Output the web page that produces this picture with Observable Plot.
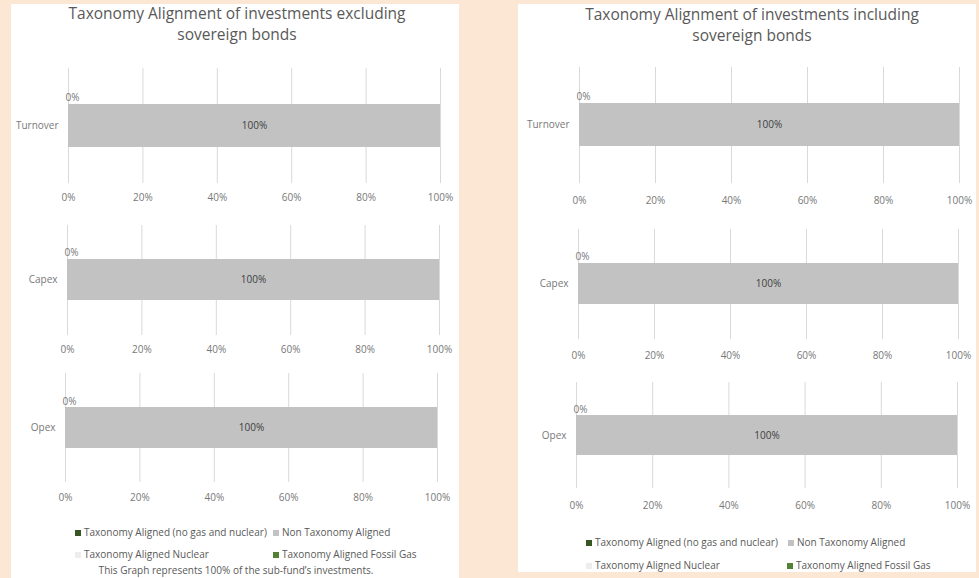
<!DOCTYPE html>
<html>
<head>
<meta charset="utf-8">
<script src="https://cdn.jsdelivr.net/npm/d3@7"></script>
<script src="https://cdn.jsdelivr.net/npm/@observablehq/plot@0.6"></script>
<style>
  html, body { margin: 0; padding: 0; }
  body { width: 979px; height: 578px; background: #fbe7d4; position: relative; overflow: hidden; font-family: "Open Sans", sans-serif; }
  .panel { position: absolute; background: #ffffff; }
  .title { position: absolute; text-align: center; color: #595959; font-size: 15.5px; line-height: 21px; white-space: nowrap; transform: translateX(-50%); }
  .leg { position: absolute; font-size: 10px; color: #595959; white-space: nowrap; line-height: 12px; }
  .sw { display: inline-block; width: 6px; height: 6px; margin-right: 3px; vertical-align: 0px; }
  .cap { position: absolute; font-size: 10px; color: #595959; white-space: nowrap; transform: translateX(-50%); line-height: 11px; }
</style>
</head>
<body>
<div class="panel" style="left:11px; top:4px; width:448px; height:574px;"></div>
<div class="panel" style="left:518px; top:4px; width:458px; height:568px;"></div>
<div id="root"></div>
<script>
// ---- data ----
const categories = ["Turnover", "Capex", "Opex"];
const seriesNames = [
  "Taxonomy Aligned (no gas and nuclear)",
  "Non Taxonomy Aligned",
  "Taxonomy Aligned Nuclear",
  "Taxonomy Aligned Fossil Gas"
];
const exclAligned = [0, 0, 0];
const exclNon = [100, 100, 100];
const exclNuclear = [0, 0, 0];
const exclFossil = [0, 0, 0];
const inclAligned = [0, 0, 0];
const inclNon = [100, 100, 100];
const inclNuclear = [0, 0, 0];
const inclFossil = [0, 0, 0];
const xTicks = [0, 20, 40, 60, 80, 100];
const titles = [
  ["Taxonomy Alignment of investments excluding", "sovereign bonds"],
  ["Taxonomy Alignment of investments including", "sovereign bonds"]
];
const captionText = "This Graph represents 100% of the sub-fund\u2019s investments.";

// ---- styles ----
const seriesColors = ["#375623", "#c2c2c2", "#ededed", "#548235"];
const fontFamily = "'Open Sans', sans-serif";
const fmt = d3.format(".0%");

const root = document.getElementById("root");

function subchart(catIndex, seriesValues, g) {
  const cat = categories[catIndex];
  const rows = seriesNames.map((s, i) => ({cat, series: s, value: seriesValues[i][catIndex] / 100}));
  const pad = 0.45;
  const gridH = g.bot - g.top;
  const barH = gridH * (1 - pad) / (1 + pad);
  const marginTop = 2, marginBottom = 26;
  const svgLeft = g.panelL, svgRight = g.panelR;
  const chart = Plot.plot({
    width: svgRight - svgLeft,
    height: marginTop + gridH + marginBottom,
    marginTop,
    marginBottom,
    marginLeft: g.x0 - svgLeft,
    marginRight: svgRight - g.x1,
    style: {fontFamily, fontSize: "10px", color: "#787878", background: "transparent", overflow: "visible"},
    x: {domain: [0, 1], ticks: xTicks.map(d => d / 100), tickFormat: fmt, tickSize: 0, tickPadding: g.tp, label: null},
    y: {domain: [cat], padding: pad, tickSize: 0, tickPadding: 10, label: null},
    color: {domain: seriesNames, range: seriesColors},
    marks: [
      Plot.gridX(xTicks.map(d => d / 100), {stroke: "#d9d9d9", strokeOpacity: 1, strokeWidth: 1}),
      Plot.barX(rows, {x: "value", y: "cat", fill: "series", order: seriesNames}),
      Plot.text(rows, Plot.stackX({
        x: "value", y: "cat", z: "series", order: seriesNames,
        filter: d => d.series === seriesNames[1],
        text: d => fmt(d.value), fill: "#404040", fontSize: 10
      })),
      Plot.text(rows, Plot.stackX({
        x: "value", y: "cat", z: "series", order: seriesNames,
        filter: d => d.series === seriesNames[0],
        text: d => fmt(d.value), fill: "#787878", fontSize: 10,
        dx: 4, dy: -(barH / 2 + 6)
      }))
    ]
  });
  chart.style.position = "absolute";
  chart.style.left = svgLeft + "px";
  chart.style.top = (g.top - marginTop) + "px";
  root.appendChild(chart);
}

const geomLeft = [
  {top: 68, bot: 183, x0: 68, x1: 440, tp: 10.5},
  {top: 225, bot: 335, x0: 67, x1: 439, tp: 10.5},
  {top: 373, bot: 482, x0: 65, x1: 437, tp: 11.5}
];
const geomRight = [
  {top: 67, bot: 183, x0: 579, x1: 959, tp: 13.5},
  {top: 229, bot: 339, x0: 578, x1: 958, tp: 12.5},
  {top: 382, bot: 488, x0: 576, x1: 957, tp: 13.5}
];
const excl = [exclAligned, exclNon, exclNuclear, exclFossil];
const incl = [inclAligned, inclNon, inclNuclear, inclFossil];
geomLeft.forEach((g, i) => subchart(i, excl, Object.assign({panelL: 11, panelR: 459}, g)));
geomRight.forEach((g, i) => subchart(i, incl, Object.assign({panelL: 518, panelR: 976}, g)));

// titles
function addTitle(lines, cx, top) {
  const d = document.createElement("div");
  d.className = "title";
  d.style.left = cx + "px";
  d.style.top = top + "px";
  d.innerHTML = lines.join("<br>");
  root.appendChild(d);
}
addTitle(titles[0], 237, 3);
addTitle(titles[1], 752, 4);

// legends
function addLegendItem(i, x, yc) {
  const d = document.createElement("div");
  d.className = "leg";
  d.style.left = x + "px";
  d.style.top = (yc - 6) + "px";
  const sw = document.createElement("span");
  sw.className = "sw";
  sw.style.background = seriesColors[i];
  d.appendChild(sw);
  d.appendChild(document.createTextNode(seriesNames[i]));
  root.appendChild(d);
}
addLegendItem(0, 75, 532);
addLegendItem(1, 273, 532);
addLegendItem(2, 75, 554);
addLegendItem(3, 273, 554);
addLegendItem(0, 586, 542);
addLegendItem(1, 788, 542);
addLegendItem(2, 586, 565);
addLegendItem(3, 787, 565);

const cap = document.createElement("div");
cap.className = "cap";
cap.style.left = "236px";
cap.style.top = "565px";
cap.textContent = captionText;
root.appendChild(cap);
</script>
</body>
</html>
